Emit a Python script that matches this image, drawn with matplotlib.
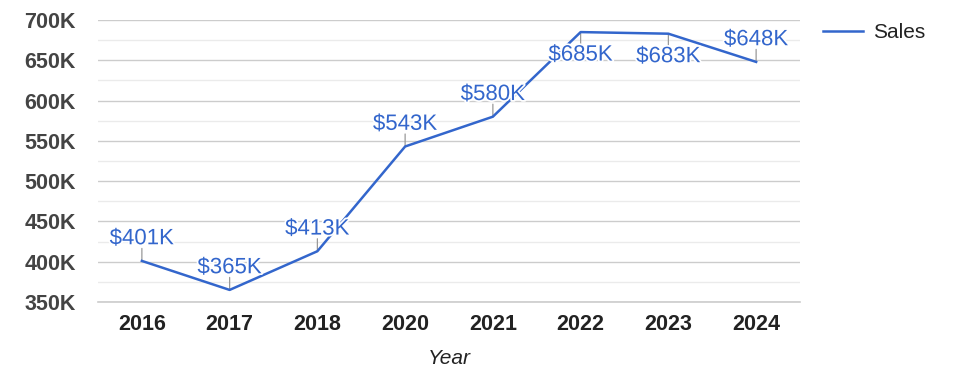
import matplotlib.pyplot as plt
import matplotlib.patheffects as pe
from matplotlib.ticker import MultipleLocator, FuncFormatter

years = ['2016', '2017', '2018', '2020', '2021', '2022', '2023', '2024']
sales = [401, 365, 413, 543, 580, 685, 683, 648]  # in K$
label_below = [False, False, False, False, False, True, True, False]

blue = '#3366cc'
plt.rcParams['font.family'] = ['Liberation Sans', 'DejaVu Sans']

fig = plt.figure(figsize=(9.75, 3.78), dpi=100)
ax = fig.add_axes([98 / 975, 1 - 302 / 378, 702 / 975, 282 / 378])

x = range(len(years))
ax.plot(x, sales, color=blue, lw=1.8, label='Sales', zorder=3)

# data labels with small leader ticks
for i, (v, below) in enumerate(zip(sales, label_below)):
    sgn = -1 if below else 1
    ax.annotate('', xy=(i, v), xytext=(0, sgn * 9), textcoords='offset points',
                arrowprops=dict(arrowstyle='-', color='#999999', lw=0.9,
                                shrinkA=0, shrinkB=0), zorder=2)
    ax.annotate(f'${v}K', xy=(i, v), xytext=(0, -9 if below else 12),
                textcoords='offset points', ha='center',
                va='top' if below else 'baseline', fontsize=16, color=blue, zorder=4,
                path_effects=[pe.withStroke(linewidth=2.5, foreground='white')])

ax.set_xlim(-0.5, len(years) - 0.5)
ax.set_ylim(350, 700)
ax.set_xticks(list(x))
ax.set_xticklabels(years, fontsize=15.5, fontweight='bold', color='#222222')
ax.yaxis.set_major_locator(MultipleLocator(50))
ax.yaxis.set_minor_locator(MultipleLocator(25))
ax.yaxis.set_major_formatter(FuncFormatter(lambda v, p: f'{int(v)}K'))
for lab in ax.get_yticklabels():
    lab.set_fontsize(15.5)
    lab.set_fontweight('bold')
    lab.set_color('#444444')

ax.tick_params(axis='y', which='both', length=0, pad=16)
ax.tick_params(axis='x', length=0, pad=9)
ax.grid(axis='y', which='major', color='#cccccc', lw=1)
ax.grid(axis='y', which='minor', color='#ebebeb', lw=1)
ax.axhline(350, color='#cccccc', lw=1.2, clip_on=False, zorder=1)
ax.set_axisbelow(True)
for s in ax.spines.values():
    s.set_visible(False)

ax.set_xlabel('Year', fontsize=15, fontstyle='italic', color='#222222', labelpad=10)

ax.legend(loc='upper left', bbox_to_anchor=(1.033, 0.99), frameon=False,
          borderpad=0, borderaxespad=0, handlelength=1.9, handletextpad=0.5,
          fontsize=15, labelcolor='#222222')

fig.savefig('out.png', dpi=100)
